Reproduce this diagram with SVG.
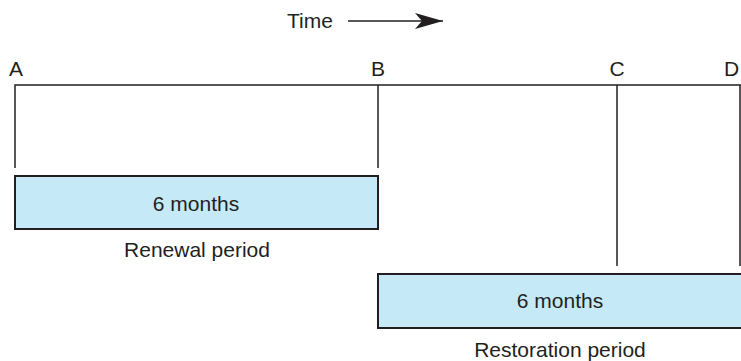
<svg xmlns="http://www.w3.org/2000/svg" width="741" height="361" viewBox="0 0 741 361">
<style>
text{font-family:"Liberation Sans",Arial,sans-serif;font-size:21px;fill:#231f20}
.ln{stroke:#231f20;stroke-width:1.5;fill:none}
.box{fill:#c6e9f8;stroke:#231f20;stroke-width:2}
</style>
<defs>
<marker id="ah" markerWidth="30" markerHeight="16" refX="28" refY="8" orient="auto" markerUnits="userSpaceOnUse">
<path d="M0,0 L28,8 L0,16 L7,8 Z" fill="#231f20"/>
</marker>
</defs>
<g id="time"><text x="310" y="28" text-anchor="middle">Time</text></g>
<g id="connectors">
<line class="ln" x1="348" y1="21" x2="443" y2="21" marker-end="url(#ah)"/>
<polyline class="ln" points="15,168 15,85 745,85"/>
<line class="ln" x1="378" y1="85" x2="378" y2="168"/>
<line class="ln" x1="617" y1="85" x2="617" y2="266"/>
<line class="ln" x1="740" y1="85" x2="740" y2="266"/>
</g>
<g id="labelA"><text x="16" y="76" text-anchor="middle">A</text></g>
<g id="labelB"><text x="378" y="76" text-anchor="middle">B</text></g>
<g id="labelC"><text x="617" y="76" text-anchor="middle">C</text></g>
<g id="labelD"><text x="724" y="76">D</text></g>
<g id="renewal">
<rect class="box" x="15" y="176" width="363" height="53"/>
<text x="196" y="211" text-anchor="middle">6 months</text>
<text x="197" y="257" text-anchor="middle">Renewal period</text>
</g>
<g id="restoration">
<rect class="box" x="378" y="274" width="370" height="54"/>
<text x="560" y="308" text-anchor="middle">6 months</text>
<text x="560" y="357" text-anchor="middle">Restoration period</text>
</g>
</svg>
